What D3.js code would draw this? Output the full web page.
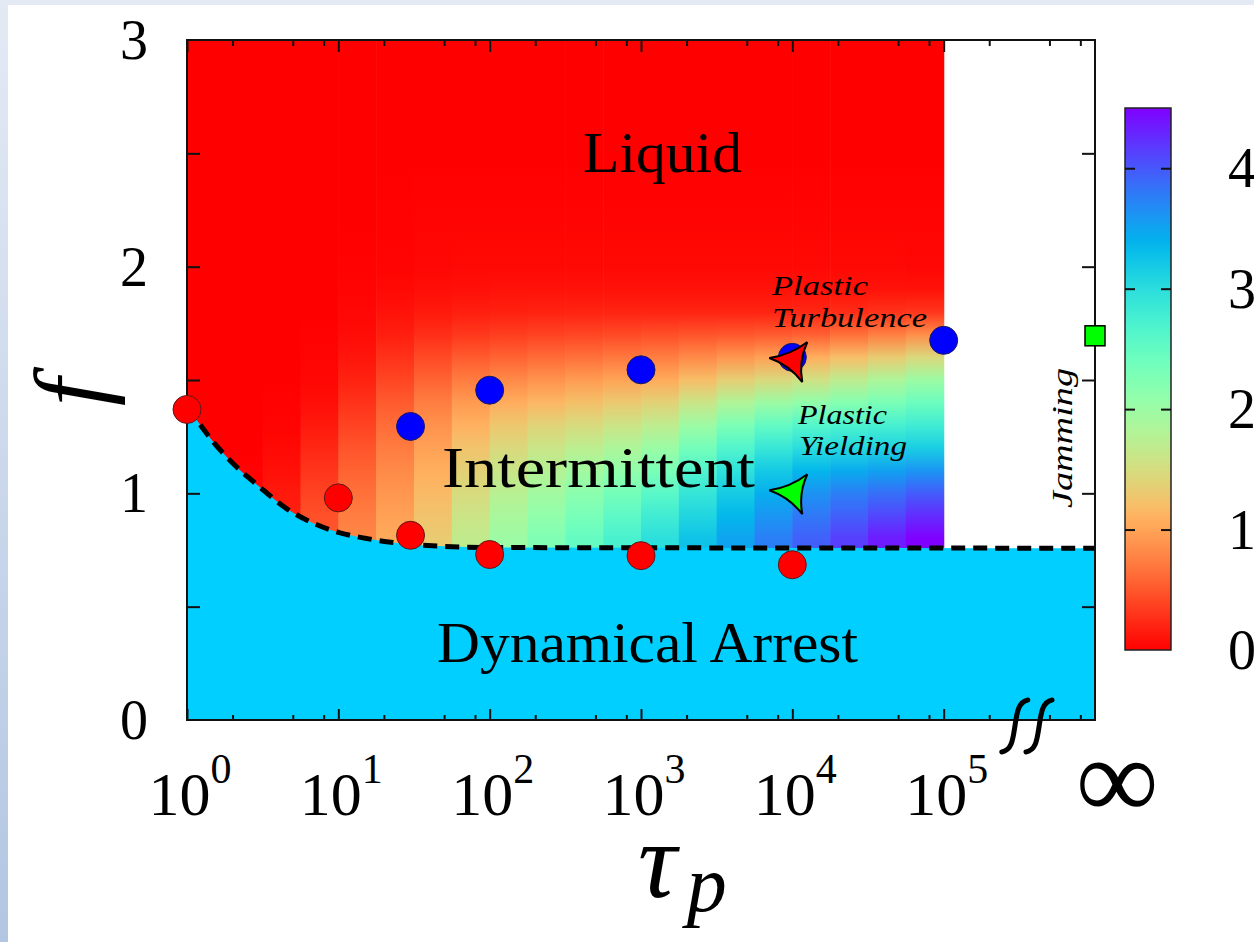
<!DOCTYPE html>
<html>
<head>
<meta charset="utf-8">
<script src="https://cdn.jsdelivr.net/npm/d3@7"></script>
<style>
  body { margin: 0; background: #fff; }
  text { font-family: 'Liberation Serif', 'DejaVu Serif', serif; fill: #000; }
</style>
</head>
<body>
<script>
// ---- data ----
const TAU_INF = 1e6;   // "infinity" sits one decade right of 10^5 (axis break)

// phase boundary (dashed line), tau and f
const boundaryTau = [1, 1.16, 1.5, 2, 3, 4.5, 7, 10, 15, 25, 50, 100, TAU_INF];
const boundaryF   = [1.38, 1.323, 1.225, 1.134, 1.03, 0.935, 0.865, 0.828, 0.802, 0.78, 0.766, 0.761, 0.758];

// red circles (lower transition) and blue circles (upper transition)
const redTau  = [1, 10, 30, 100, 1000, 1e4];
const redF    = [1.37, 0.98, 0.815, 0.73, 0.725, 0.685];
const blueTau = [30, 100, 1000, 1e4, 1e5];
const blueF   = [1.295, 1.455, 1.545, 1.6, 1.675];

// triangle markers at tau = 10^4 and the jamming square at tau = infinity
const triTau   = [1e4, 1e4];
const triF     = [1.588, 1.005];
const triColor = ["#ff0000", "#00ff00"];
const squareTau = [TAU_INF];
const squareF   = [1.695];

// colour field: columns of 0.25 decade, values at the f levels below
const heatLogTau = [0, 0.25, 0.5, 0.75, 1, 1.25, 1.5, 1.75, 2, 2.25,
                    2.5, 2.75, 3, 3.25, 3.5, 3.75, 4, 4.25, 4.5, 4.75];
const fLevels = [0.8, 0.9, 1.0, 1.1, 1.2, 1.3, 1.4, 1.5, 1.6, 1.7, 1.8, 1.9, 2.0, 2.2, 2.5, 3.0];
const heatValues = [
  [0,0,0,0,0,0,0,0,0,0,0,0,0,0,0,0],
  [0.05,0.04,0.02,0.01,0,0,0,0,0,0,0,0,0,0,0,0],
  [0.2,0.18,0.14,0.09,0.05,0.02,0.01,0,0,0,0,0,0,0,0,0],
  [0.5,0.46,0.38,0.3,0.22,0.14,0.08,0.04,0.02,0.01,0,0,0,0,0,0],
  [0.8,0.74,0.66,0.57,0.48,0.38,0.28,0.19,0.12,0.07,0.04,0.02,0.01,0,0,0],
  [1.05,0.98,0.9,0.82,0.73,0.63,0.52,0.4,0.28,0.17,0.1,0.05,0.02,0.01,0,0],
  [1.32,1.25,1.17,1.08,0.98,0.87,0.74,0.58,0.42,0.26,0.14,0.08,0.04,0.02,0,0],
  [1.68,1.58,1.48,1.37,1.25,1.1,0.93,0.73,0.52,0.32,0.17,0.09,0.05,0.02,0,0],
  [2.0,1.88,1.75,1.6,1.45,1.28,1.07,0.82,0.57,0.35,0.18,0.1,0.05,0.02,0,0],
  [2.25,2.1,1.95,1.78,1.6,1.4,1.15,0.88,0.62,0.38,0.19,0.1,0.05,0.02,0,0],
  [2.48,2.32,2.15,1.95,1.72,1.48,1.22,0.94,0.66,0.4,0.2,0.1,0.05,0.02,0,0],
  [2.72,2.55,2.35,2.1,1.85,1.58,1.3,1.0,0.7,0.42,0.2,0.1,0.05,0.02,0,0],
  [2.98,2.8,2.58,2.3,2.02,1.7,1.38,1.05,0.74,0.45,0.2,0.1,0.05,0.02,0,0],
  [3.25,3.08,2.9,2.65,2.35,2.0,1.6,1.2,0.82,0.48,0.2,0.1,0.05,0.02,0,0],
  [3.5,3.35,3.18,2.95,2.65,2.28,1.82,1.35,0.9,0.5,0.2,0.1,0.05,0.02,0,0],
  [3.75,3.6,3.42,3.2,2.88,2.5,2.0,1.45,0.98,0.52,0.2,0.1,0.05,0.02,0,0],
  [3.95,3.8,3.62,3.35,3.0,2.63,2.1,1.55,1.08,0.55,0.22,0.1,0.05,0.02,0,0],
  [4.15,3.95,3.75,3.45,3.05,2.7,2.2,1.7,1.2,0.65,0.25,0.1,0.05,0.02,0,0],
  [4.35,4.1,3.85,3.52,3.1,2.75,2.3,1.85,1.32,0.75,0.28,0.1,0.05,0.02,0,0],
  [4.5,4.25,3.97,3.6,3.15,2.8,2.42,2.0,1.45,0.85,0.3,0.1,0.04,0.02,0,0]
];

// ticks and labels
const xMajorExp  = [0, 1, 2, 3, 4, 5];
const xMinorMult = [2, 5, 8];
const yTicks     = [0.5, 1, 1.5, 2, 2.5];
const yLabels    = [0, 1, 2, 3];
const cbTicks    = [1, 2, 3, 4];
const cbLabels   = [0, 1, 2, 3, 4];
const cbMax      = 4.5;

// ---- setup ----
const W = 1254, H = 942;
const svg = d3.select("body").append("svg").attr("width", W).attr("height", H);
const defs = svg.append("defs");

// slide-like background strip on the left and top
const bg = defs.append("linearGradient").attr("id", "bg")
  .attr("x1", 0).attr("y1", 0).attr("x2", 0).attr("y2", 1);
bg.append("stop").attr("offset", 0).attr("stop-color", "#e4eaf4");
bg.append("stop").attr("offset", 1).attr("stop-color", "#b2c6e2");
svg.append("rect").attr("width", W).attr("height", H).attr("fill", "url(#bg)");
svg.append("rect").attr("x", 8).attr("y", 5).attr("width", W - 8).attr("height", H - 5).attr("fill", "#fff");

const x = d3.scaleLog().domain([1, TAU_INF]).range([187, 1095]);
const y = d3.scaleLinear().domain([0, 3]).range([720, 40]);

// matplotlib-like "rainbow", 0 -> red, cbMax -> violet
function heatColor(v) {
  const t = 1 - Math.max(0, Math.min(cbMax, v)) / cbMax;
  const r = Math.min(1, Math.abs(2 * t - 0.5));
  const g = Math.sin(Math.PI * t);
  const b = Math.cos(Math.PI * t / 2);
  return d3.rgb(r * 255, g * 255, b * 255).formatHex();
}

// ---- colour field ----
const fTop = 3, fBot = 0.7;
heatLogTau.forEach((lt, k) => {
  const grad = defs.append("linearGradient").attr("id", "hc" + k)
    .attr("gradientUnits", "userSpaceOnUse")
    .attr("x1", 0).attr("x2", 0).attr("y1", y(fTop)).attr("y2", y(fBot));
  fLevels.map((f, i) => ({f: f, v: heatValues[k][i]}))
    .sort((a, b) => b.f - a.f)
    .forEach(s => grad.append("stop")
      .attr("offset", (y(s.f) - y(fTop)) / (y(fBot) - y(fTop)))
      .attr("stop-color", heatColor(s.v)));
  const x0 = x(Math.pow(10, lt)), x1 = x(Math.pow(10, lt + 0.25));
  svg.append("rect")
    .attr("x", x0).attr("width", x1 - x0 + 0.6)
    .attr("y", y(fTop)).attr("height", y(fBot) - y(fTop))
    .attr("fill", "url(#hc" + k + ")");
});

// ---- dynamical arrest region + boundary ----
const boundary = boundaryTau.map((t, i) => ({tau: t, f: boundaryF[i]}));
svg.append("path").datum(boundary)
  .attr("d", d3.area().x(d => x(d.tau)).y0(y(0)).y1(d => y(d.f)).curve(d3.curveMonotoneX))
  .attr("fill", "#00cfff");
svg.append("path").datum(boundary)
  .attr("d", d3.line().x(d => x(d.tau)).y(d => y(d.f)).curve(d3.curveMonotoneX))
  .attr("fill", "none").attr("stroke", "#000").attr("stroke-width", 5)
  .attr("stroke-dasharray", "14,8");

// ---- frame and ticks ----
const xMajor = xMajorExp.map(e => Math.pow(10, e));
const xMinor = [];
xMajor.forEach(d => xMinorMult.forEach(m => xMinor.push(d * m)));

function styleAxis(g) {
  g.select(".domain").remove();
  g.selectAll("line").attr("stroke", "#111").attr("stroke-width", 2);
}
svg.append("g").attr("transform", "translate(0,720)")
  .call(d3.axisBottom(x).tickValues(xMajor).tickSize(-11).tickFormat("")).call(styleAxis);
svg.append("g").attr("transform", "translate(0,720)")
  .call(d3.axisBottom(x).tickValues(xMinor).tickSize(-5).tickFormat("")).call(styleAxis);
svg.append("g").attr("transform", "translate(0,40)")
  .call(d3.axisTop(x).tickValues(xMajor).tickSize(-12).tickFormat("")).call(styleAxis);
svg.append("g").attr("transform", "translate(0,40)")
  .call(d3.axisTop(x).tickValues(xMinor).tickSize(-6).tickFormat("")).call(styleAxis);
svg.append("g").attr("transform", "translate(187,0)")
  .call(d3.axisLeft(y).tickValues(yTicks).tickSize(-13).tickFormat("")).call(styleAxis);
svg.append("g").attr("transform", "translate(1095,0)")
  .call(d3.axisRight(y).tickValues(yTicks).tickSize(-13).tickFormat("")).call(styleAxis);

svg.append("rect").attr("x", 187).attr("y", 40).attr("width", 1095 - 187).attr("height", 680)
  .attr("fill", "none").attr("stroke", "#111").attr("stroke-width", 2);

// axis break marks between 10^5 and infinity
const breakTau = [Math.pow(10, 5.47), Math.pow(10, 5.63)];
breakTau.forEach(t => {
  const cx = x(t), cy = 727;
  svg.append("path")
    .attr("d", `M${cx + 13},${cy - 27} C${cx + 3},${cy - 25} ${cx + 2},${cy - 13} ${cx},${cy}` +
               ` C${cx - 2},${cy + 13} ${cx - 3},${cy + 23} ${cx - 13},${cy + 25}`)
    .attr("fill", "none").attr("stroke", "#000").attr("stroke-width", 5).attr("stroke-linecap", "round");
});

// ---- tick labels ----
svg.selectAll(".ylab").data(yLabels).join("text")
  .attr("x", 148).attr("y", d => y(d)).attr("dy", "0.34em")
  .attr("text-anchor", "end").attr("font-size", 56).text(d => d);

const xl = svg.selectAll(".xlab").data(xMajorExp).join("text")
  .attr("x", e => x(Math.pow(10, e)) + 3).attr("y", 815)
  .attr("text-anchor", "middle").attr("font-size", 62);
xl.append("tspan").text("10");
xl.append("tspan").attr("font-size", 42).attr("dy", -32).text(e => e);

svg.append("text").attr("x", x(TAU_INF) + 22).attr("y", 818)
  .attr("text-anchor", "middle").attr("font-size", 116).text("\u221e");

// axis titles
svg.append("text").attr("transform", "translate(104,392) rotate(-90)")
  .attr("text-anchor", "middle").attr("font-size", 100).attr("font-style", "italic").text("f");
const tt = svg.append("text").attr("x", 638).attr("y", 897).attr("font-style", "italic");
tt.append("tspan").attr("font-size", 108).text("\u03c4");
tt.append("tspan").attr("font-size", 80).attr("dx", 10).attr("dy", 14).text("p");

// ---- phase labels ----
svg.append("text").attr("x", 583).attr("y", 172).attr("font-size", 58)
  .attr("textLength", 159).attr("lengthAdjust", "spacingAndGlyphs").text("Liquid");
svg.append("text").attr("x", 442).attr("y", 487).attr("font-size", 56)
  .attr("textLength", 313).attr("lengthAdjust", "spacingAndGlyphs").text("Intermittent");
svg.append("text").attr("x", 437).attr("y", 662).attr("font-size", 56)
  .attr("textLength", 421).attr("lengthAdjust", "spacingAndGlyphs").text("Dynamical Arrest");

function italicLabel(x0, y0, w, s) {
  svg.append("text").attr("x", x0).attr("y", y0).attr("font-size", 28).attr("font-style", "italic")
    .attr("textLength", w).attr("lengthAdjust", "spacingAndGlyphs").attr("fill", "#1a0505").text(s);
}
italicLabel(772, 295, 96, "Plastic");
italicLabel(772, 327, 155, "Turbulence");
italicLabel(798, 424, 89, "Plastic");
italicLabel(799, 455, 108, "Yielding");
svg.append("text").attr("transform", "translate(1072,438) rotate(-90)")
  .attr("text-anchor", "middle").attr("font-size", 29).attr("font-style", "italic")
  .attr("textLength", 140).attr("lengthAdjust", "spacingAndGlyphs").text("Jamming");

// ---- data points ----
svg.selectAll(".red").data(redTau).join("circle")
  .attr("cx", d => x(d)).attr("cy", (d, i) => y(redF[i])).attr("r", 14)
  .attr("fill", "#ff0000").attr("stroke", "#5a1a1a").attr("stroke-width", 1);
svg.selectAll(".blue").data(blueTau).join("circle")
  .attr("cx", d => x(d)).attr("cy", (d, i) => y(blueF[i])).attr("r", 14)
  .attr("fill", "#0000ff").attr("stroke", "#1a1a5a").attr("stroke-width", 1);

// concave triangle pointing left
const triPath = "M-23,-2 Q-2,-5 15,-18 Q6,1 10,22 Q-3,5 -23,-2 Z";
svg.selectAll(".tri").data(triTau).join("path")
  .attr("transform", (d, i) => `translate(${x(d)},${y(triF[i])})`)
  .attr("d", triPath).attr("fill", (d, i) => triColor[i])
  .attr("stroke", "#000").attr("stroke-width", 2).attr("stroke-linejoin", "miter");

svg.selectAll(".sq").data(squareTau).join("rect")
  .attr("x", d => x(d) - 10).attr("y", (d, i) => y(squareF[i]) - 10)
  .attr("width", 20).attr("height", 20)
  .attr("fill", "#00ff00").attr("stroke", "#000").attr("stroke-width", 1.5);

// ---- colour bar ----
const cb = d3.scaleLinear().domain([0, cbMax]).range([650, 108]);
const cbg = defs.append("linearGradient").attr("id", "cbg")
  .attr("x1", 0).attr("y1", 1).attr("x2", 0).attr("y2", 0);
d3.range(0, 46).forEach(i => {
  const v = i * cbMax / 45;
  cbg.append("stop").attr("offset", v / cbMax).attr("stop-color", heatColor(v));
});
svg.append("rect").attr("x", 1125).attr("y", 108).attr("width", 46).attr("height", 542)
  .attr("fill", "url(#cbg)").attr("stroke", "#222").attr("stroke-width", 1.5);
svg.append("g").attr("transform", "translate(1125,0)")
  .call(d3.axisLeft(cb).tickValues(cbTicks).tickSize(-10).tickFormat("")).call(styleAxis);
svg.append("g").attr("transform", "translate(1171,0)")
  .call(d3.axisRight(cb).tickValues(cbTicks).tickSize(-10).tickFormat("")).call(styleAxis);
svg.selectAll(".cblab").data(cbLabels).join("text")
  .attr("x", 1228).attr("y", d => cb(d)).attr("dy", "0.34em")
  .attr("font-size", 56).text(d => d);
</script>
</body>
</html>
